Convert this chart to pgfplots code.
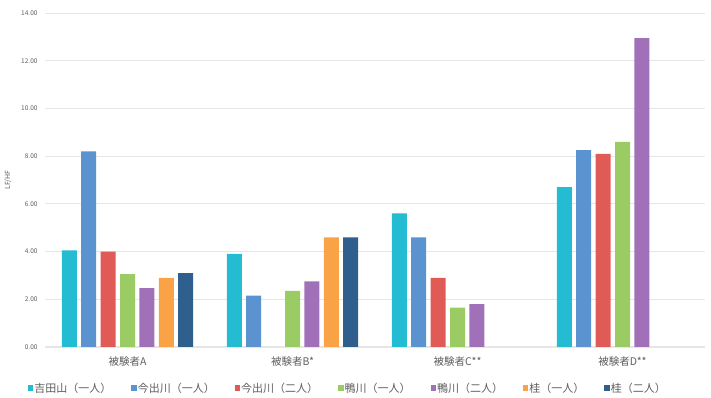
\documentclass[border=0pt]{standalone}
\usepackage{pgfplots}
\pgfplotsset{compat=1.18}
\usepackage{fontspec}
\setmainfont{Noto Sans CJK JP}
\definecolor{c1}{HTML}{24BCD3}
\definecolor{c2}{HTML}{5A93CF}
\definecolor{c3}{HTML}{E05A56}
\definecolor{c4}{HTML}{9BCB63}
\definecolor{c5}{HTML}{A070B8}
\definecolor{c6}{HTML}{F9A246}
\definecolor{c7}{HTML}{2F5F8C}
\definecolor{txt}{HTML}{5E5E5E}
\definecolor{grd}{HTML}{E6E6E6}
\begin{document}
\begin{tikzpicture}[x=1pt,y=1pt]
\begin{axis}[name=ax,
  scale only axis, width=660pt, height=334pt,
  ybar=4.4pt, bar width=15pt,
  xmin=-0.5, xmax=3.5, ymin=0, ymax=14,
  xtick={0,1,2,3},
  xticklabels={被験者A,被験者B*,被験者C**,被験者D**},
  ytick={0,2,...,14},
  /pgf/number format/fixed, /pgf/number format/fixed zerofill, /pgf/number format/precision=2, /pgf/number format/assume math mode=true,
  yticklabel style={font=\fontsize{6.5}{7}\selectfont, text=txt, xshift=-4pt},
  xticklabel style={font=\fontsize{10.5}{11}\selectfont, text=txt, yshift=-6pt},
  major tick length=0pt,
  ymajorgrids, grid style={grd, line width=0.8pt},
  axis line style={draw=none},
  axis x line*=bottom, axis y line*=left,
  ylabel={LF/HF}, ylabel style={font=\fontsize{7}{8}\selectfont, text=txt, at={(axis description cs:-0.056,0.5)}, anchor=center},
  legend columns=7,
  legend style={at={(0.459,-0.123)}, anchor=center, draw=none, font=\fontsize{11}{12}\selectfont, text=txt, /tikz/every even column/.append style={column sep=18pt}, /tikz/every odd column/.append style={column sep=-1pt}},
  legend image code/.code={\fill[#1, draw=none] (0pt,-2.7pt) rectangle (5.4pt,2.7pt);},
  every axis plot/.append style={draw=none},
]
\draw[grd, line width=1pt] (rel axis cs:0,0) -- (rel axis cs:1,0);
\addplot[fill=c1] coordinates {(0,4.05) (1,3.9) (2,5.6) (3,6.7)};
\addplot[fill=c2] coordinates {(0,8.2) (1,2.15) (2,4.6) (3,8.25)};
\addplot[fill=c3] coordinates {(0,4.0) (2,2.9) (3,8.1)};
\addplot[fill=c4] coordinates {(0,3.05) (1,2.35) (2,1.65) (3,8.6)};
\addplot[fill=c5] coordinates {(0,2.47) (1,2.75) (2,1.8) (3,12.95)};
\addplot[fill=c6] coordinates {(0,2.9) (1,4.6)};
\addplot[fill=c7] coordinates {(0,3.1) (1,4.6)};
\legend{吉田山（一人）,今出川（一人）,今出川（二人）,鴨川（一人）,鴨川（二人）,桂（一人）,桂（二人）}
\end{axis}
\path[use as bounding box] ([xshift=-45pt,yshift=-50pt]ax.south west) rectangle ([xshift=6pt,yshift=13pt]ax.north east);
\end{tikzpicture}
\end{document}
